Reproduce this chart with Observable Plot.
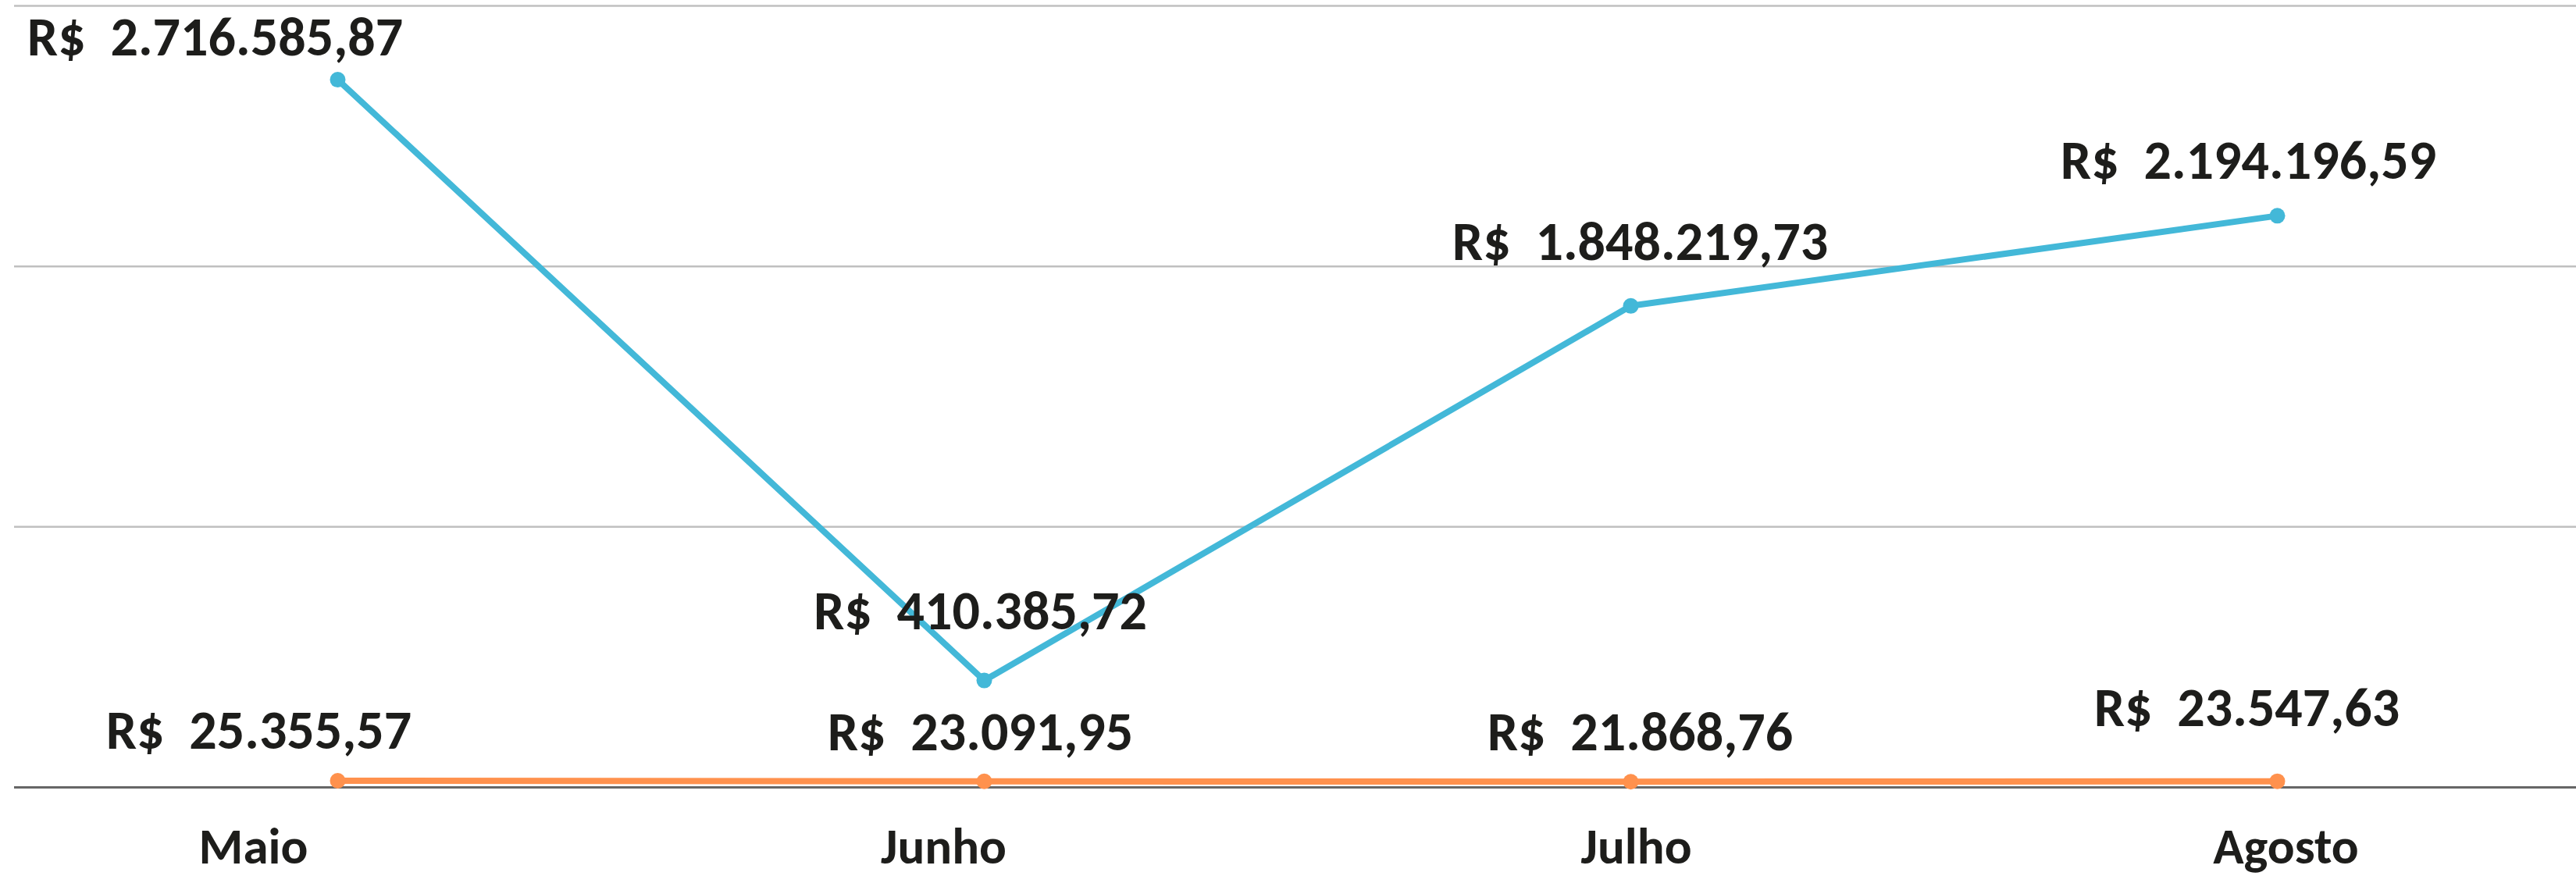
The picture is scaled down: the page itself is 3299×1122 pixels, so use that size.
<!DOCTYPE html>
<html>
<head>
<meta charset="utf-8">
<script src="https://cdn.jsdelivr.net/npm/d3@7"></script>
<script src="https://cdn.jsdelivr.net/npm/@observablehq/plot@0.6"></script>
<style>
  html, body { margin: 0; padding: 0; background: #ffffff; }
  svg { display: block; }
</style>
</head>
<body>
<div id="chart"></div>
<script>
// ---- data ----
const months = ["Maio", "Junho", "Julho", "Agosto"];
const seriesBlue = [2716585.87, 410385.72, 1848219.73, 2194196.59];
const seriesOrange = [25355.57, 23091.95, 21868.76, 23547.63];
const gridValues = [1000000, 2000000, 3000000];

// ---- presentation ----
const BLUE = "#43b8d8";
const ORANGE = "#ff914d";
const TEXT = "#1d1d1b";
const FONT = "Carlito, Calibri, Lato, sans-serif";

// label nudges (pixels) per month, so labels sit like the original
const blueNudge = { dx: [-157, -5, 12, -37], dy: [-53, -88, -81, -70] };
const orangeNudge = { dx: [-101, -5, 12, -39], dy: [-63, -62, -63, -93] };
const monthNudge = [-108, -52, 7, 11];

const brl = d3.formatLocale({ decimal: ",", thousands: ".", grouping: [3], currency: ["R$", ""] }).format(",.2f");
const label = v => "R$\u00a0\u00a0" + brl(v);

const blueData = months.map((m, i) => ({ month: m, value: seriesBlue[i] }));
const orangeData = months.map((m, i) => ({ month: m, value: seriesOrange[i] }));

const labelMarks = (data, nudge) => data.map((d, i) =>
  Plot.text([d], {
    x: "month", y: "value", text: d => label(d.value),
    dx: nudge.dx[i], dy: nudge.dy[i],
    fontSize: 70, fontWeight: 700, fill: TEXT, textAnchor: "middle"
  })
);

const monthMarks = months.map((m, i) =>
  Plot.text([m], {
    x: d => d, text: d => d, frameAnchor: "bottom", lineAnchor: "top",
    dy: 51, dx: monthNudge[i],
    fontSize: 65, fontWeight: 700, fill: TEXT, textAnchor: "middle"
  })
);

const W = 3299, H = 1122;

const chart = Plot.plot({
  width: W,
  height: H,
  marginTop: 7,
  marginBottom: 114,
  marginLeft: 18,
  marginRight: 0,
  style: { fontFamily: FONT, background: "#ffffff", overflow: "visible" },
  x: { type: "point", domain: months, range: [431, 2916], padding: 0, axis: null },
  y: { domain: [0, 3000000], axis: null },
  marks: [
    Plot.ruleY(gridValues, { stroke: "#c0c0c0", strokeWidth: 2.5 }),
    Plot.ruleY([0], { stroke: "#666666", strokeWidth: 3 }),
    Plot.line(orangeData, { x: "month", y: "value", stroke: ORANGE, strokeWidth: 8 }),
    Plot.dot(orangeData, { x: "month", y: "value", fill: ORANGE, r: 10 }),
    Plot.line(blueData, { x: "month", y: "value", stroke: BLUE, strokeWidth: 8 }),
    Plot.dot(blueData, { x: "month", y: "value", fill: BLUE, r: 10 }),
    ...labelMarks(blueData, blueNudge),
    ...labelMarks(orangeData, orangeNudge),
    ...monthMarks
  ]
});

document.getElementById("chart").appendChild(chart);
</script>
</body>
</html>
